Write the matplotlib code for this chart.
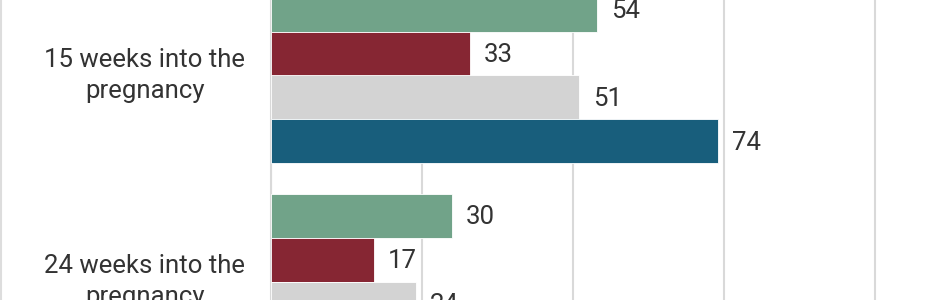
import numpy as np
import matplotlib.pyplot as plt
import matplotlib.transforms as mtransforms
from matplotlib.lines import Line2D

plt.rcParams['font.family'] = ['Roboto', 'DejaVu Sans']

categories = ["15 weeks into the\npregnancy", "24 weeks into the\npregnancy"]
series_green = [54, 30]
series_red = [33, 17]
series_gray = [51, 24]
series_blue = [74, np.nan]  # second value is outside the visible crop

series = [series_green, series_red, series_gray, series_blue]
colors = ["#71A389", "#862633", "#D3D3D3", "#185E7C"]
text_color = "#333333"
grid_color = "#D9D9D9"

fig = plt.figure(figsize=(9.5, 3), dpi=100)
ax = fig.add_axes([271 / 950, 0, 1 - 271 / 950, 1])

h = 44 / 206
pos = np.arange(len(categories))
for i, (vals, c) in enumerate(zip(series, colors)):
    y = pos + (i - 1.5) * h
    ax.barh(y, vals, height=h, color=c, edgecolor="white", linewidth=0.6, zorder=3)
    for yy, v in zip(y, vals):
        if np.isnan(v):
            continue
        ax.annotate(f"{v:g}", xy=(v, yy), xytext=(10, -1.0), textcoords="offset points",
                    va="center", ha="left", fontsize=18.5, color=text_color,
                    annotation_clip=False)

ax.set_xlim(0, (950 - 271) / (151 / 25))
ax.set_ylim(1 + (300 - 281.5) / 206, -75.5 / 206)
ax.set_xticks([0, 25, 50, 75, 100])
ax.xaxis.grid(True, color=grid_color, linewidth=1.5, zorder=0)
ax.set_yticks(pos)
ax.set_yticklabels(categories, fontsize=18.5, color=text_color, ha="center",
                   linespacing=1.4)
ax.tick_params(axis="y", length=0, pad=91)
ax.tick_params(axis="x", length=0, labelbottom=False)
# nudge category labels up a little
shift = mtransforms.ScaledTranslation(0, 4.5 / 72, fig.dpi_scale_trans)
for lbl in ax.get_yticklabels():
    lbl.set_transform(lbl.get_transform() + shift)
for s in ["top", "right", "bottom"]:
    ax.spines[s].set_visible(False)
ax.spines["left"].set_color(grid_color)
ax.spines["left"].set_linewidth(1.5)

fig.add_artist(Line2D([0.7 / 950, 0.7 / 950], [0, 1], color="#DDDDDD", linewidth=1.5,
                      transform=fig.transFigure))

fig.savefig("out.png", dpi=100)
